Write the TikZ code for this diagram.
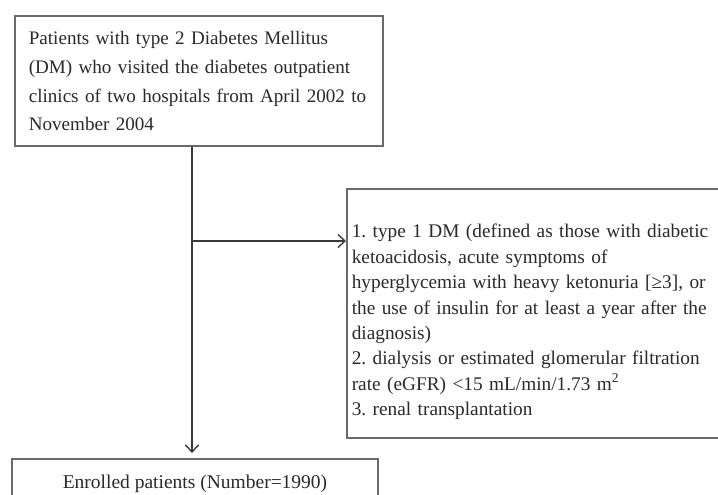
\documentclass[tikz,border=0pt]{standalone}
\usepackage{fontspec}
\setmainfont{Liberation Serif}
\usetikzlibrary{arrows.meta}
\definecolor{boxgray}{HTML}{6A6A6A}
\definecolor{txtgray}{HTML}{2A2A2A}
\definecolor{arrgray}{HTML}{3A3A3A}
\frenchspacing
\begin{document}
\begin{tikzpicture}[x=1pt,y=-1pt,
  box/.style={draw=boxgray, line width=1.6pt, text=txtgray, inner ysep=0pt},
  conn/.style={draw=arrgray, line width=1.5pt},
  tip/.style={-{Straight Barb[length=7pt,width=13pt,line width=1.4pt]}}]
\useasboundingbox[fill=white] (0,0) rectangle (718,495);
\node[box, anchor=north west, inner xsep=14pt, text width=340pt, align=left,
      font=\fontsize{19.1pt}{28.7pt}\selectfont\frenchspacing, text height=29pt, text depth=101pt]
  (top) at (14,15) {\mbox{Patients with type 2 Diabetes Mellitus}\\
  \mbox{(DM) who visited the diabetes outpatient}\\
  \mbox{clinics of two hospitals from April 2002 to}\\
  \mbox{November 2004}};
\node[box, anchor=north west, inner xsep=5pt, text width=374pt, align=left,
      font=\fontsize{19.3pt}{25.4pt}\selectfont\frenchspacing, text height=49pt, text depth=200pt]
  (excl) at (346,188) {\mbox{1. type 1 DM (defined as those with diabetic}\\
  \mbox{ketoacidosis, acute symptoms of}\\
  \mbox{hyperglycemia with heavy ketonuria [≥3], or}\\
  \mbox{the use of insulin for at least a year after the}\\
  \mbox{diagnosis)}\\
  \mbox{2. dialysis or estimated glomerular filtration}\\
  \mbox{rate (eGFR) <15 mL/min/1.73 m\textsuperscript{2}}\\
  \mbox{3. renal transplantation}};
\node[box, anchor=north, inner xsep=0pt, minimum width=366pt,
      font=\fontsize{19.5pt}{24pt}\selectfont, text height=30pt, text depth=30pt]
  (enr) at (195,458) {Enrolled patients (Number=1990)};
\coordinate (j) at (192,241);
\draw[conn] (top.south -| j) -- (j);
\draw[conn, tip] (j) -- (enr.north -| j) [shorten >=5pt];
\draw[conn, tip] (j) -- (excl.west |- j);
\end{tikzpicture}
\end{document}
